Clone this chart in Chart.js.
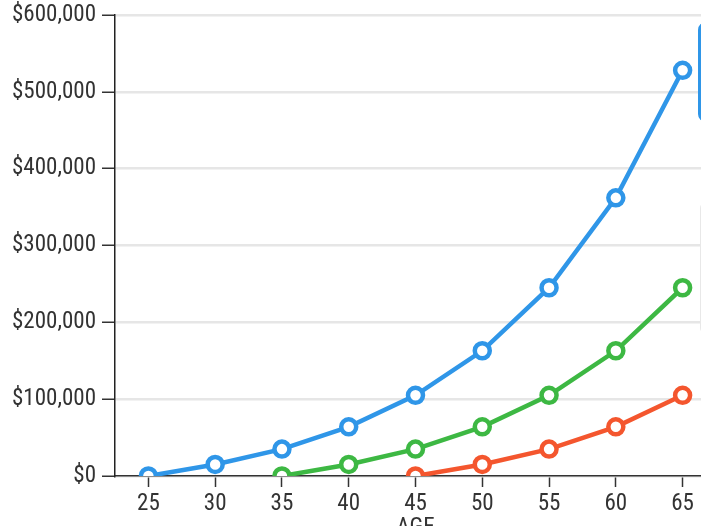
<!DOCTYPE html>
<html>
<head>
<meta charset="utf-8">
<script src="https://cdn.jsdelivr.net/npm/chart.js@4"></script>
<style>
  html, body { margin: 0; padding: 0; background: #fff; overflow: hidden; }
  #wrap { position: absolute; left: 0; top: 0; width: 760px; height: 560px; }
  .side-box { position: absolute; background: #fff; width: 200px; }
  #boxA { left: 698px; top: 22px; height: 94px; border: 3px solid #2f96e8; border-radius: 8px; }
  #boxB { left: 700px; top: 202px; height: 130px; border: 1px solid #e8e8e8; border-radius: 6px; }
</style>
</head>
<body>
<div id="wrap">
  <canvas id="grafico" width="760" height="560"></canvas>
</div>
<div class="side-box" id="boxA"></div>
<div class="side-box" id="boxB"></div>
<script>
// idades no eixo x
const ages = ["25", "30", "35", "40", "45", "50", "55", "60", "65"];

// valores (aprox.)
const start25 = [0, 15000, 35000, 64000, 105000, 163000, 245000, 362000, 528000];
const start35 = [null, null, 0, 15000, 35000, 64000, 105000, 163000, 245000];
const start45 = [null, null, null, null, 0, 15000, 35000, 64000, 105000];

const yMax = 600000;
const yStep = 100000;

const fonte = { family: "'Roboto Condensed', 'Liberation Sans Narrow', 'Arial Narrow', 'DejaVu Sans Condensed', Roboto, sans-serif", size: 23 };
const corTexto = "#333";

function serie(label, data, cor) {
    return {
        label: label,
        data: data,
        borderColor: cor,
        backgroundColor: cor,
        borderWidth: 4.5,
        pointRadius: 7.5,
        pointHoverRadius: 7.5,
        pointBorderWidth: 4.5,
        pointBackgroundColor: "#fff",
        pointBorderColor: cor,
        tension: 0,
        spanGaps: false,
    };
}

const ctx = document.getElementById("grafico").getContext("2d");
new Chart(ctx, {
    type: "line",
    data: {
        labels: ages,
        datasets: [
            serie("Start at 45", start45, "#f4562e"),
            serie("Start at 35", start35, "#3db843"),
            serie("Start at 25", start25, "#2f96e8"),
        ],
    },
    options: {
        responsive: false,
        animation: false,
        layout: { padding: { left: 0, top: 15, right: 44, bottom: 0 } },
        plugins: {
            legend: { display: false },
            tooltip: { enabled: false },
        },
        scales: {
            x: {
                offset: true,
                grid: {
                    drawOnChartArea: false,
                    drawTicks: true,
                    tickLength: 11,
                    tickColor: "#333",
                    tickWidth: 1.5,
                },
                border: { color: "#333", width: 1.5 },
                ticks: { color: corTexto, font: fonte, padding: 3, maxRotation: 0 },
                title: {
                    display: true,
                    text: "AGE",
                    color: corTexto,
                    font: fonte,
                    padding: { top: 0, bottom: 18 },
                },
                afterFit: function(scale) {
                    scale.height = 84;
                    scale.paddingLeft = 0;
                    scale.paddingRight = 0;
                },
            },
            y: {
                min: 0,
                max: yMax,
                grid: {
                    color: "#e6e6e6",
                    lineWidth: 2.5,
                    tickLength: 13,
                    tickColor: "#333",
                    tickWidth: 1.5,
                },
                border: { color: "#222", width: 1.5 },
                ticks: {
                    stepSize: yStep,
                    color: corTexto,
                    font: fonte,
                    padding: 6,
                    callback: function(v) { return "$" + v.toLocaleString("en-US"); },
                },
                afterFit: function(scale) {
                    scale.width = 115;
                    scale.paddingTop = 0;
                    scale.paddingBottom = 0;
                },
            },
        },
    },
});
</script>
</body>
</html>
